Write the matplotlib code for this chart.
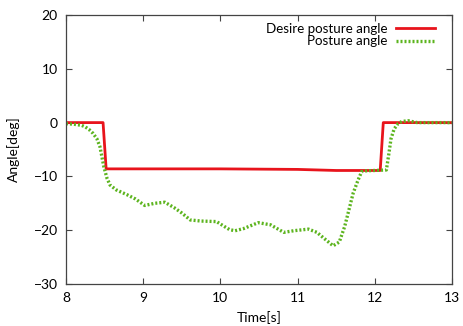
import matplotlib
matplotlib.use("Agg")
import matplotlib.pyplot as plt

plt.rcParams['font.family'] = ['Lato', 'DejaVu Sans']

# desired posture angle (step command)
t_desire = [8.0, 8.48, 8.52, 9.0, 10.0, 11.0, 11.5, 12.07, 12.11, 13.0]
desire = [0.0, 0.0, -8.6, -8.6, -8.6, -8.7, -8.9, -8.9, 0.0, 0.0]

# measured posture angle
t_posture = [8.0, 8.1, 8.2, 8.25, 8.3, 8.35, 8.4, 8.44, 8.49, 8.53, 8.57, 8.65,
             8.79, 8.9, 9.02, 9.15, 9.28, 9.4, 9.5, 9.61, 9.75, 9.95, 10.05,
             10.12, 10.19, 10.3, 10.49, 10.65, 10.82, 10.95, 11.14, 11.25,
             11.35, 11.46, 11.54, 11.61, 11.66, 11.72, 11.78, 11.83, 11.9,
             12.0, 12.15, 12.18, 12.21, 12.25, 12.3, 12.35, 12.43, 12.55, 13.0]
posture = [-0.2, -0.3, -0.5, -0.8, -1.3, -2.0, -3.0, -4.5, -8.2, -10.3, -11.6, -12.5,
           -13.4, -14.2, -15.4, -15.0, -14.8, -15.8, -16.8, -18.1, -18.3, -18.4, -19.3,
           -19.9, -20.1, -19.7, -18.6, -19.0, -20.4, -20.1, -19.8, -20.4,
           -21.6, -22.9, -22.2, -19.3, -16.5, -13.1, -10.8, -9.1, -8.95,
           -8.9, -8.8, -6.0, -3.0, -1.2, -0.2, 0.2, 0.35, 0.0, 0.0]

fig = plt.figure(figsize=(4.63, 3.26), dpi=100)
ax = fig.add_axes([66 / 463, 1 - 284 / 326, (452 - 66) / 463, (284 - 15) / 326])

ax.plot(t_desire, desire, color='#e8141c', lw=2.0, label='Desire posture angle')
ax.plot(t_posture, posture, color='#5cb41e', lw=2.4, ls=(0, (0.6, 0.6)),
        label='Posture angle')

ax.set_xlim(8, 13)
ax.set_ylim(-30, 20)
ax.set_xticks([8, 9, 10, 11, 12, 13])
ax.set_yticks([-30, -20, -10, 0, 10, 20])
ax.tick_params(direction='in', top=True, right=True, length=4, width=0.8,
               labelsize=10, pad=6, color='#444444')
for s in ax.spines.values():
    s.set_color('#444444')
    s.set_linewidth(0.9)

ax.set_xlabel('Time[s]', fontsize=10, labelpad=5)
ax.set_ylabel('Angle[deg]', fontsize=10, labelpad=10)

leg = ax.legend(loc='upper right', bbox_to_anchor=(0.956, 0.972), frameon=False,
                fontsize=9.6, markerfirst=False, handlelength=2.9,
                handletextpad=0.65, labelspacing=0.05, borderaxespad=0.0,
                borderpad=0.0)
for txt in leg.get_texts():
    txt.set_ha('right')
leg._legend_box.align = 'right'

fig.savefig('out.png', dpi=100)
